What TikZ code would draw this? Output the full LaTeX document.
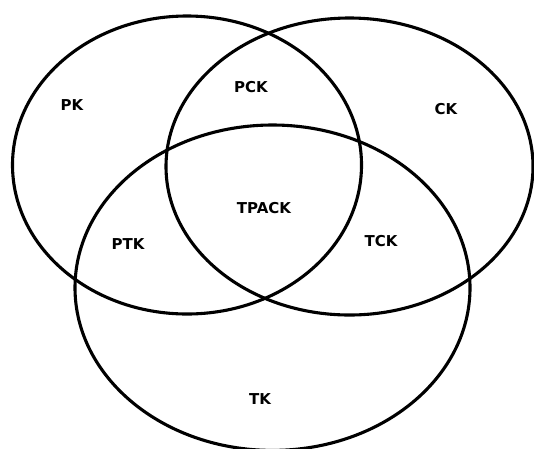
\documentclass[tikz,border=0pt]{standalone}
\usepackage{fontspec}
\setmainfont{DejaVu Sans}
\tikzset{
  setring/.style={draw=black, line width=3.1pt},
  setlabel/.style={font=\bfseries\fontsize{15}{17}\selectfont, inner sep=0pt}
}
\begin{document}
\begin{tikzpicture}[x=1pt,y=-1pt]
  \useasboundingbox (0,0) rectangle (534,448);
  % the three knowledge domains
  \draw[setring] (187,165)   ellipse [x radius=174.5pt, y radius=149pt];
  \draw[setring] (349.5,166.5) ellipse [x radius=183.5pt, y radius=148.5pt];
  \draw[setring] (272.5,287.7) ellipse [x radius=197.5pt, y radius=162.7pt];
  % region labels
  \node[setlabel] (pk)    at (72,105)   {PK};
  \node[setlabel] (pck)   at (251,87)   {PCK};
  \node[setlabel] (ck)    at (446,109)  {CK};
  \node[setlabel] (tpack) at (264,208.5){TPACK};
  \node[setlabel] (ptk)   at (128,244)  {PTK};
  \node[setlabel] (tck)   at (381,241.5){TCK};
  \node[setlabel] (tk)    at (260,399.5){TK};
\end{tikzpicture}
\end{document}
